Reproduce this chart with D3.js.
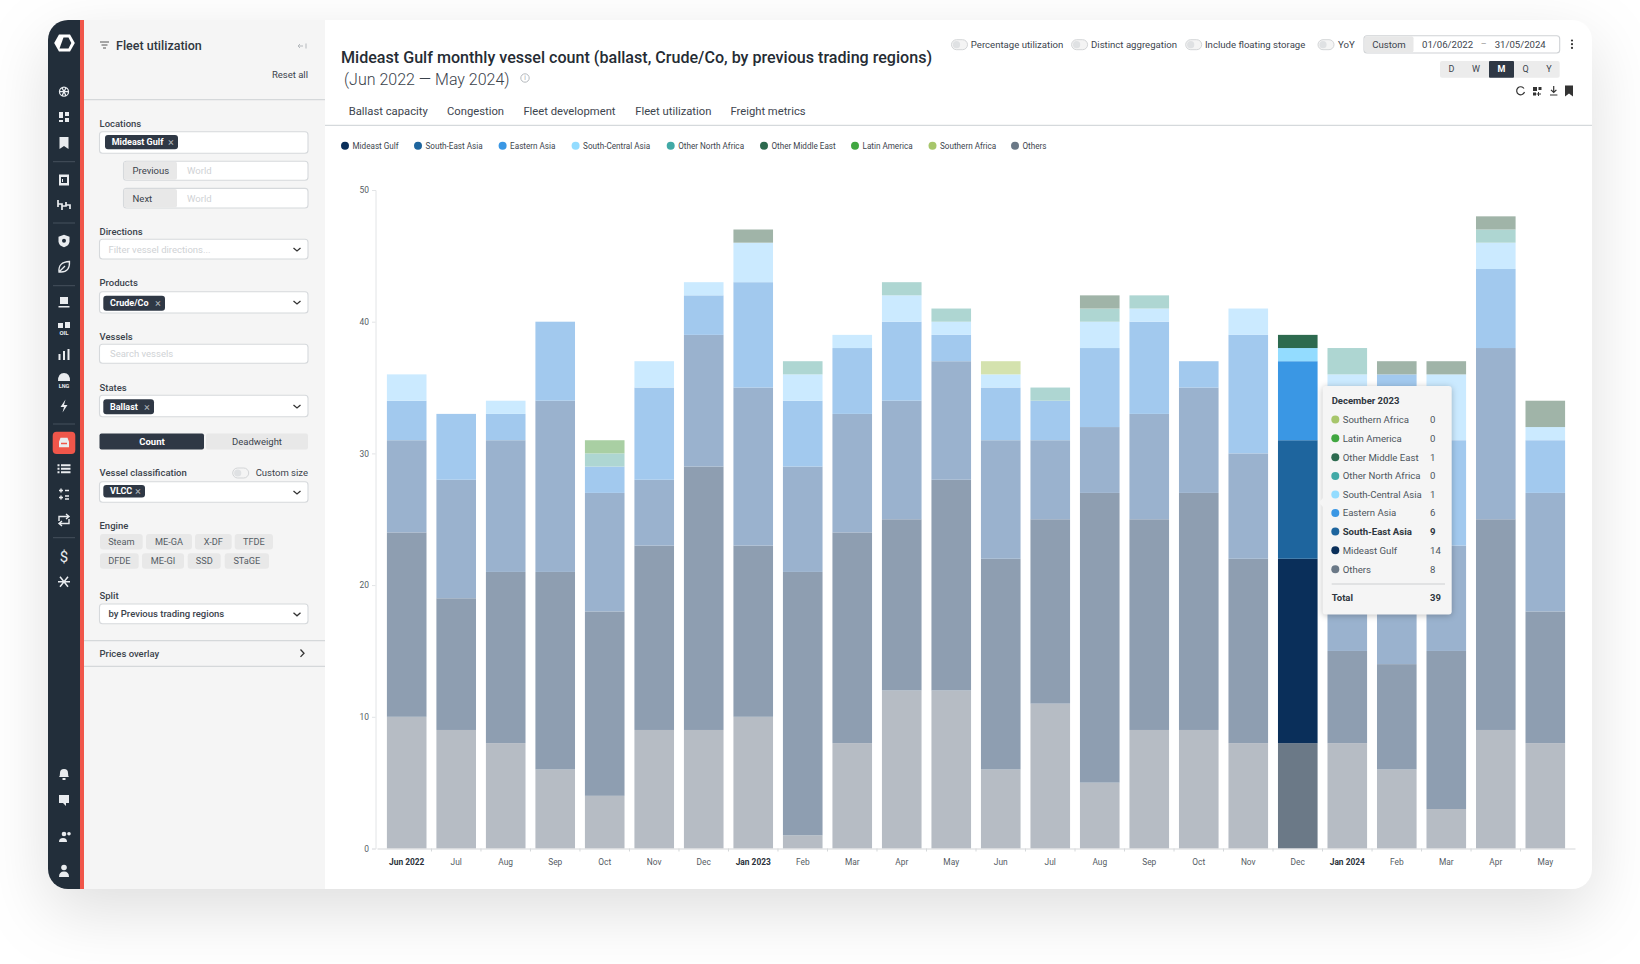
<!DOCTYPE html>
<html>
<head>
<meta charset="utf-8">
<script src="https://cdn.jsdelivr.net/npm/d3@7"></script>
<style>
  html, body { margin: 0; padding: 0; background: #fff; }
  svg { display: block; font-family: Roboto, sans-serif; }
</style>
</head>
<body>
<div id="chart"></div>
<script>
// chart data
const months = ['Jun 2022','Jul','Aug','Sep','Oct','Nov','Dec','Jan 2023','Feb','Mar','Apr','May',
                'Jun','Jul','Aug','Sep','Oct','Nov','Dec','Jan 2024','Feb','Mar','Apr','May'];
const others           = [10,9,8,6,4,9,9,10,1,8,12,12,6,11,5,9,9,8,8,8,6,3,9,8];
const mideastGulf      = [14,10,13,15,14,14,20,13,20,16,13,16,16,14,22,16,18,14,14,7,8,12,16,10];
const southEastAsia    = [7,9,10,13,9,5,10,12,8,9,9,9,9,6,5,8,8,8,9,10,10,8,13,9];
const easternAsia      = [3,5,2,6,2,7,3,8,5,5,6,2,4,3,6,7,2,9,6,8,12,8,6,4];
const southCentralAsia = [2,0,1,0,0,2,1,3,2,1,2,1,1,0,2,1,0,2,1,3,0,5,2,1];
const otherNorthAfrica = [0,0,0,0,1,0,0,0,1,0,1,1,0,1,1,1,0,0,0,2,0,0,1,0];
const otherMiddleEast  = [0,0,0,0,0,0,0,1,0,0,0,0,0,0,1,0,0,0,1,0,1,1,1,2];
const latinAmerica     = [0,0,0,0,1,0,0,0,0,0,0,0,0,0,0,0,0,0,0,0,0,0,0,0];
const southernAfrica   = [0,0,0,0,0,0,0,0,0,0,0,0,1,0,0,0,0,0,0,0,0,0,0,0];

// bottom to top stacking order
const seriesNames  = ['Others','Mideast Gulf','South-East Asia','Eastern Asia','South-Central Asia','Other North Africa','Other Middle East','Latin America','Southern Africa'];
const seriesValues = [others, mideastGulf, southEastAsia, easternAsia, southCentralAsia, otherNorthAfrica, otherMiddleEast, latinAmerica, southernAfrica];
const seriesColors = ['#6b7987','#0a2f5a','#1e659e','#3a97e4','#93dcff','#41a9a6','#2d6a4f','#41a741','#a7c66b'];
// washed out versions used for every month that is not hovered
const seriesFaded  = ['#b6bcc4','#8e9eb1','#9ab2ce','#a2c9ee','#cbeaff','#aed6d2','#a0b4a8','#a9cfa3','#d4e2ae'];
const legendOrder  = ['Mideast Gulf','South-East Asia','Eastern Asia','South-Central Asia','Other North Africa','Other Middle East','Latin America','Southern Africa','Others'];
const legendX      = [345,418,502.6,575.6,670.7,764,855,932.5,1015];
const yTicks       = [0,10,20,30,40,50];
const boldMonths   = ['Jun 2022','Jan 2023','Jan 2024'];
const activeIndex  = 18;
const activeLabel  = 'December 2023';
const activeSeries = 'South-East Asia';

const W = 1640, H = 964;
const svg = d3.select('#chart').append('svg').attr('width', W).attr('height', H);

function txt(parent, x, y, s, o = {}) {
    return parent.append('text')
        .attr('x', x).attr('y', y).attr('dy', '.35em')
        .attr('text-anchor', o.anchor || 'start')
        .attr('font-size', o.size || 10)
        .attr('font-weight', o.weight || 400)
        .attr('fill', o.fill || '#444c55')
        .text(s);
}
function box(parent, x0, y0, x1, y1, fill, o = {}) {
    return parent.append('rect')
        .attr('x', x0).attr('y', y0).attr('width', x1 - x0).attr('height', y1 - y0)
        .attr('rx', o.r === undefined ? 2 : o.r)
        .attr('fill', fill)
        .attr('stroke', o.stroke || 'none')
        .attr('stroke-width', o.sw || 1);
}
function path(parent, d, o = {}) {
    return parent.append('path').attr('d', d)
        .attr('fill', o.fill || 'none')
        .attr('stroke', o.stroke || 'none')
        .attr('stroke-width', o.sw || 1);
}

// card with soft shadow
const defs = svg.append('defs');
defs.append('clipPath').attr('id', 'cardClip').append('rect')
    .attr('x', 48).attr('y', 20).attr('width', 1544).attr('height', 869).attr('rx', 20);
box(svg, 48, 20, 1592, 889, '#fff', { r: 20 })
    .style('filter', 'drop-shadow(0 22px 32px rgba(0,0,0,.13))');
const card = svg.append('g').attr('clip-path', 'url(#cardClip)');

drawNav(card);
drawPanel(card);
drawHeader(card);
drawChart(card);
drawTooltip(svg);

function drawNav(g) {
    box(g, 48, 20, 80, 889, '#222e3a', { r: 0 });
    box(g, 80, 20, 84, 889, '#f0564a', { r: 0 });
    box(g, 84, 20, 325, 889, '#f5f5f5', { r: 0 });

    // logo
    path(g, 'M59 34.5 H70 L74.8 43 L70 51.5 H59 L54.2 43 Z', { fill: '#fff' });
    path(g, 'M63.5 37.5 H68.5 L71.3 43 L68.5 48.5 H59.5 Z', { fill: '#222e3a' });

    [161.7, 223, 285.7, 424, 537.7].forEach(y => path(g, `M53 ${y} H75`, { stroke: '#45505c' }));
    box(g, 52.7, 431.7, 75.3, 454, '#f0564a', { r: 4 });

    const white = { fill: '#e9ecef' };
    const at = (cy, d, o = white) => path(g.append('g').attr('transform', `translate(64,${cy})`), d, o);
    const disc = r => `M${-r} 0 A${r} ${r} 0 1 1 ${r} 0 A${r} ${r} 0 1 1 ${-r} 0 Z`;

    at(91.7, disc(4.5) + ' M-4.5 0 H4.5 M-2 -4 L2 4 M2 -4 L-2 4', { stroke: '#e9ecef', sw: 1.3 });
    at(117, 'M-5 -5 H-1 V1 H-5 Z M1 -5 H5 V-1 H1 Z M1 1 H5 V5 H1 Z M-5 3 H-1 V5 H-5 Z');
    at(143, 'M-4.5 -6 H4.5 V6 L0 3 L-4.5 6 Z');
    at(180, 'M-5 -5.5 H5 V5.5 H-5 Z M-3 -3 V3 H3 V-3 Z M-2 -1 H-1 V2 H-2 Z', white);
    at(205, 'M-6 -5 V2 M-6 -1 H-2 V5 M-2 1 H2 V-3 M2 0 H6 V4', { stroke: '#e9ecef', sw: 1.7 });
    at(240.7, 'M0 -6 L5.5 -4 V1 Q5 5 0 6.5 Q-5 5 -5.5 1 V-4 Z', white);
    at(240.7, disc(2), { fill: '#222e3a' });
    at(267, 'M-5 5 Q-6 -5 5.5 -5.5 Q6 5 -3 5 Z M-5 5 L1 -1', { stroke: '#e9ecef', sw: 1.3 });
    at(303, 'M-4 -6 H4 V1 H-4 Z M-5.5 3 H5.5 V4.6 H-5.5 Z', white);
    at(328, 'M-6 -5 H-1 V0 H-6 Z M1 -6 H6 V0 H1 Z', white);
    txt(g, 64, 333, 'OIL', { anchor: 'middle', size: 6, weight: 700, fill: '#e9ecef' });
    at(355, 'M-5.5 -1 H-3.5 V5 H-5.5 Z M-1 -4 H1 V5 H-1 Z M3.5 -6 H5.5 V5 H3.5 Z', white);
    at(378, 'M-6 3 Q-6 -5 0 -5 Q6 -5 6 3 Z', white);
    txt(g, 64, 386, 'LNG', { anchor: 'middle', size: 5.5, weight: 700, fill: '#e9ecef' });
    at(406, 'M1.5 -6.5 L-3.5 1 H0 L-1.5 6.5 L3.5 -1 H0 Z', white);
    at(442.8, 'M-5 -1 L-3.5 -5 H3.5 L5 -1 V4.5 H-5 Z M-3 0 V1.5 H3 V0 Z', white);
    at(468.7, 'M-6.5 -4.5 H-4.5 V-2.5 H-6.5 Z M-3 -4.5 H6.5 V-2.5 H-3 Z M-6.5 -1 H-4.5 V1 H-6.5 Z M-3 -1 H6.5 V1 H-3 Z M-6.5 2.5 H-4.5 V4.5 H-6.5 Z M-3 2.5 H6.5 V4.5 H-3 Z');
    at(494, 'M-5 -3.5 H-1 M-3 -5.5 V-1.5 M1 -3.5 H5 M-5 3.5 H-1 M-3 1.5 V5.5 M1 2 H5 M1 5 H5', { stroke: '#e9ecef', sw: 1.4 });
    at(520, 'M-5 1 V-3.5 H4 M2 -6 L5 -3.5 L2 -1 M5 -1 V3.5 H-4 M-2 1 L-5 3.5 L-2 6', { stroke: '#e9ecef', sw: 1.4 });
    txt(g, 64, 556.7, '$', { anchor: 'middle', size: 15, weight: 400, fill: '#e9ecef' });
    at(581.7, 'M-6 0 H6 M-4 -5 L4 5 M4 -5 L-4 5', { stroke: '#e9ecef', sw: 1.5 });
    at(774, 'M-5 3 Q-4 2 -4 -1 Q-4 -5 0 -5 Q4 -5 4 -1 Q4 2 5 3 Z M-1.5 4 H1.5 V6 H-1.5 Z', white);
    at(800, 'M-5 -5 H5 V3 H2 V6 L-1 3 H-5 Z', white);
    at(838, 'M-5 4 Q-5 0 -1 0 Q3 0 3 4 Z', white);
    at(834, disc(2.3), white);
    at(836, 'M5 -4 A1.8 1.8 0 1 0 5 -0.4 A1.8 1.8 0 1 0 5 -4 Z', white);
    at(871.5, 'M-5 5.5 Q-5 0 0 0 Q5 0 5 5.5 Z', white);
    at(867.5, disc(2.8), white);
}

function drawPanel(g) {
    const label = '#3b434c', line = '#d6d9dc', hint = '#cfd2d5';
    path(g, 'M100 42 H109 M101.5 45 H107.5 M103 48 H106', { stroke: '#555', sw: 1 });
    txt(g, 116, 45.9, 'Fleet utilization', { size: 12.5, weight: 500, fill: '#2f3740' });
    path(g, 'M303 46 H298 M300 44 L298 46 L300 48 M306 43.5 V48.5', { stroke: '#b5b9bd' });
    txt(g, 308, 75, 'Reset all', { size: 9.5, anchor: 'end', fill: label });
    path(g, 'M84 99.6 H325', { stroke: '#d5d8da', sw: 1.2 });

    const field = (y0, y1, x0 = 99.5) => box(g, x0, y0, 308, y1, '#fff', { r: 3, stroke: line, sw: 1.1 });
    const chip = (x0, x1, y0, y1, s) => {
        box(g, x0, y0, x1, y1, '#2f3845', { r: 3 });
        txt(g, x0 + 6.7, (y0 + y1) / 2, s, { size: 9, weight: 700, fill: '#fff' });
        txt(g, x1 - 7, (y0 + y1) / 2, '×', { size: 11, anchor: 'middle', fill: '#aeb4ba' });
    };
    const chevron = y => path(g, `M293.5 ${y - 1.5} L297 ${y + 1.5} L300.5 ${y - 1.5}`, { stroke: '#333', sw: 1.3 });
    const head = (y, s) => txt(g, 99.5, y, s, { size: 9.5, weight: 500, fill: label });

    head(123.5, 'Locations');
    field(131.7, 153.3);
    chip(105, 178, 135, 149.3, 'Mideast Gulf');

    [[161.2, 180.2, 'Previous'], [188.4, 208, 'Next']].forEach(([y0, y1, s]) => {
        field(y0, y1, 123.5);
        box(g, 124, y0 + .5, 177, y1 - .5, '#e8e8e8', { r: 2 });
        txt(g, 132.6, (y0 + y1) / 2, s, { size: 9.5, fill: label });
        txt(g, 187, (y0 + y1) / 2, 'World', { size: 9.5, fill: hint });
    });

    head(231.5, 'Directions');
    field(239.3, 259);
    txt(g, 108.5, 249.3, 'Filter vessel directions...', { size: 9.5, fill: hint });
    chevron(249.5);

    head(282.7, 'Products');
    field(291.7, 313);
    chip(103.3, 165, 295.7, 310.7, 'Crude/Co');
    chevron(302.5);

    head(336.7, 'Vessels');
    field(344.3, 363.3);
    txt(g, 110, 354, 'Search vessels', { size: 9.5, fill: hint });

    head(387.4, 'States');
    field(395.3, 416.7);
    chip(103.3, 154, 399.3, 414.3, 'Ballast');
    chevron(406.5);

    box(g, 99.5, 433.4, 204, 449.4, '#2f3845', { r: 2 });
    box(g, 206, 433.4, 308, 449.4, '#e8e8e8', { r: 2 });
    txt(g, 152, 441.4, 'Count', { size: 9.5, weight: 700, anchor: 'middle', fill: '#fff' });
    txt(g, 257, 441.4, 'Deadweight', { size: 9.5, anchor: 'middle', fill: label });

    head(472.3, 'Vessel classification');
    toggle(g, 232.7, 473);
    txt(g, 308, 473, 'Custom size', { size: 9.5, anchor: 'end', fill: label });
    field(481.7, 502.3);
    chip(103.3, 145, 485, 497.5, 'VLCC');
    chevron(492.5);

    head(525.7, 'Engine');
    [[100, 142.7, 'Steam', 534], [146, 192, 'ME-GA', 534], [195, 231.7, 'X-DF', 534], [234.7, 273, 'TFDE', 534],
     [100, 138.7, 'DFDE', 553.3], [142, 184, 'ME-GI', 553.3], [187.7, 220.7, 'SSD', 553.3], [224.7, 269, 'STaGE', 553.3]]
        .forEach(([x0, x1, s, y0]) => {
            box(g, x0, y0, x1, y0 + 15.4, '#e8e8e8', { r: 3 });
            txt(g, (x0 + x1) / 2, y0 + 7.7, s, { size: 9.2, anchor: 'middle', fill: '#555c64' });
        });

    head(595.3, 'Split');
    field(604, 623.7);
    txt(g, 108.5, 613.8, 'by Previous trading regions', { size: 9.5, weight: 500, fill: label });
    chevron(614.3);

    path(g, 'M84 640.7 H325 M84 666.3 H325', { stroke: '#d5d8da', sw: 1.2 });
    head(653.2, 'Prices overlay');
    path(g, 'M300.5 649.5 L304 653.2 L300.5 656.9', { stroke: '#333', sw: 1.3 });
}

function toggle(g, x, cy) {
    box(g, x, cy - 5, x + 16, cy + 5, '#f4f4f4', { r: 5, stroke: '#d3d5d7' });
    g.append('circle').attr('cx', x + 5).attr('cy', cy).attr('r', 3.6).attr('fill', '#dfe1e3');
}

function drawHeader(g) {
    const col = '#3d454e';
    txt(g, 341, 57.7, 'Mideast Gulf monthly vessel count (ballast, Crude/Co, by previous trading regions)', { size: 16.1, weight: 500, fill: '#252c34' });
    txt(g, 344, 79, '(Jun 2022 — May 2024)', { size: 16, weight: 300, fill: '#3a424b' });
    g.append('circle').attr('cx', 525).attr('cy', 78).attr('r', 4.2).attr('fill', 'none').attr('stroke', '#b5b9bd');
    txt(g, 525, 78, 'i', { size: 6.5, anchor: 'middle', fill: '#a5a9ad' });

    [[348.7, 'Ballast capacity'], [447, 'Congestion'], [523.4, 'Fleet development'], [635.2, 'Fleet utilization'], [730.4, 'Freight metrics']]
        .forEach(([x, s]) => txt(g, x, 110.7, s, { size: 11.25, fill: col }));
    path(g, 'M325 125.4 H1592', { stroke: '#d5d9dc', sw: 1.2 });

    [[951.5, 970.8, 'Percentage utilization'], [1071.6, 1091, 'Distinct aggregation'],
     [1185.7, 1205, 'Include floating storage'], [1318, 1338, 'YoY']].forEach(([xt, xl, s]) => {
        toggle(g, xt, 44.7);
        txt(g, xl, 44.7, s, { size: 9.6, fill: col });
    });

    box(g, 1364, 35.7, 1559.7, 53, '#fff', { r: 3, stroke: '#cfd2d5', sw: 1.1 });
    box(g, 1364.5, 36.2, 1413.5, 52.5, '#e8e8e8', { r: 2 });
    txt(g, 1389, 44.3, 'Custom', { size: 9.6, anchor: 'middle', fill: col });
    txt(g, 1422, 44.7, '01/06/2022', { size: 9.6, fill: col });
    txt(g, 1483.6, 44, '–', { size: 9, anchor: 'middle', fill: '#999' });
    txt(g, 1494.7, 44.7, '31/05/2024', { size: 9.6, fill: col });
    [40.5, 44.2, 47.9].forEach(y => g.append('circle').attr('cx', 1572).attr('cy', y).attr('r', 1.1).attr('fill', '#333'));

    box(g, 1440, 61, 1559.7, 77.7, '#ececec', { r: 2 });
    box(g, 1489, 61, 1514, 77.7, '#2f3845', { r: 1 });
    [[1451.5, 'D'], [1476, 'W'], [1501.5, 'M'], [1525.5, 'Q'], [1549, 'Y']].forEach(([x, s]) => {
        txt(g, x, 69.3, s, { size: 9, weight: s === 'M' ? 700 : 400, anchor: 'middle', fill: s === 'M' ? '#fff' : col });
    });

    path(g, 'M1524 88.5 A4 4 0 1 0 1524.5 92', { stroke: '#333', sw: 1.2 });
    path(g, 'M1533 87 H1537 V91 H1533 Z M1538.5 87 H1541.5 V90 H1538.5 Z M1533 92.5 H1536 V95.5 H1533 Z', { fill: '#333' });
    path(g, 'M1538.5 92 V96 M1536.5 94 H1541', { stroke: '#333' });
    path(g, 'M1553.7 86 V92 M1551 89.8 L1553.7 92.5 L1556.4 89.8 M1550 95 H1557.4', { stroke: '#333', sw: 1.2 });
    path(g, 'M1565 85.5 H1573 V96.5 L1569 93.5 L1565 96.5 Z', { fill: '#333' });

    legendOrder.forEach((name, i) => {
        g.append('circle').attr('cx', legendX[i]).attr('cy', 145.7).attr('r', 4)
            .attr('fill', seriesColors[seriesNames.indexOf(name)]);
        txt(g, legendX[i] + 7.5, 145.7, name, { size: 8.15, fill: col });
    });
}

function drawChart(g) {
    const rows = months.map((m, i) => {
        const row = { i, month: m };
        seriesNames.forEach((n, k) => { row[n] = seriesValues[k][i]; });
        return row;
    });
    const layers = d3.stack().keys(seriesNames)(rows);

    const x = d3.scaleBand().domain(d3.range(months.length)).range([377, 1575]).padding(0.2);
    const y = d3.scaleLinear().domain([0, 50]).range([848.5, 190]);

    g.selectAll('.layer')
        .data(layers)
        .enter()
        .append('g')
        .attr('class', 'layer')
        .each(function (layer, k) {
            d3.select(this).selectAll('rect')
                .data(layer)
                .enter()
                .append('rect')
                .attr('x', d => x(d.data.i))
                .attr('width', x.bandwidth())
                .attr('y', d => y(d[1]))
                .attr('height', d => y(d[0]) - y(d[1]))
                .attr('fill', d => d.data.i === activeIndex ? seriesColors[k] : seriesFaded[k]);
        });

    // Y
    const yAxis = g.append('g')
        .attr('transform', 'translate(375.5,0)')
        .call(d3.axisLeft(y).tickValues(yTicks).tickSize(3.5).tickPadding(3));
    yAxis.selectAll('.domain, line').attr('stroke', '#e2e4e6');
    yAxis.selectAll('text').attr('font-size', 8.4).attr('font-family', 'Roboto').attr('fill', '#555c64');

    // X, labels sit under the bars, tick marks fall between them
    const xAxis = g.append('g')
        .attr('transform', 'translate(0,848.5)')
        .call(d3.axisBottom(x).tickFormat(i => months[i]).tickSize(0).tickPadding(10.8));
    xAxis.select('.domain').attr('stroke', '#d5d8da').attr('stroke-width', 1.2);
    xAxis.selectAll('text')
        .attr('font-size', 8.4)
        .attr('font-family', 'Roboto')
        .attr('font-weight', i => boldMonths.includes(months[i]) ? 700 : 400)
        .attr('fill', i => boldMonths.includes(months[i]) ? '#2b323a' : '#555c64');
    const gap = x.step() - x.bandwidth();
    xAxis.selectAll('.between')
        .data(d3.range(1, months.length))
        .enter()
        .append('line')
        .attr('class', 'between')
        .attr('x1', i => x(i) - gap / 2)
        .attr('x2', i => x(i) - gap / 2)
        .attr('y1', 0)
        .attr('y2', 3)
        .attr('stroke', '#d5d8da');
}

function drawTooltip(parent) {
    const g = parent.append('g');
    box(g, 1322.7, 386, 1451.7, 614.5, '#f5f5f5', { r: 3 })
        .style('filter', 'drop-shadow(0 1px 3px rgba(0,0,0,.25))');
    path(g, 'M1323 498 L1319 502.5 L1323 507 Z', { fill: '#f5f5f5' });
    txt(g, 1331.7, 401, activeLabel, { size: 9.5, weight: 700, fill: '#2f3740' });

    const rowY = [419.5, 438.3, 457.2, 475.9, 494.6, 513, 531.5, 550.3, 569.2];
    const order = ['Southern Africa','Latin America','Other Middle East','Other North Africa','South-Central Asia','Eastern Asia','South-East Asia','Mideast Gulf','Others'];
    order.forEach((name, i) => {
        const k = seriesNames.indexOf(name);
        const on = name === activeSeries;
        g.append('circle').attr('cx', 1335.3).attr('cy', rowY[i]).attr('r', 4).attr('fill', seriesColors[k]);
        txt(g, 1342.7, rowY[i], name, { size: 9.6, weight: on ? 700 : 400, fill: on ? '#2f3740' : '#4d555d' });
        txt(g, 1430, rowY[i], seriesValues[k][activeIndex], { size: 9.6, weight: on ? 700 : 400, fill: on ? '#2f3740' : '#4d555d' });
    });
    path(g, 'M1331.7 584 H1445', { stroke: '#cdd0d2', sw: 1.2 });
    txt(g, 1331.7, 598, 'Total', { size: 9.5, weight: 700, fill: '#2f3740' });
    txt(g, 1430, 598, d3.sum(seriesValues, s => s[activeIndex]), { size: 9.5, weight: 700, fill: '#2f3740' });
}
</script>
</body>
</html>
